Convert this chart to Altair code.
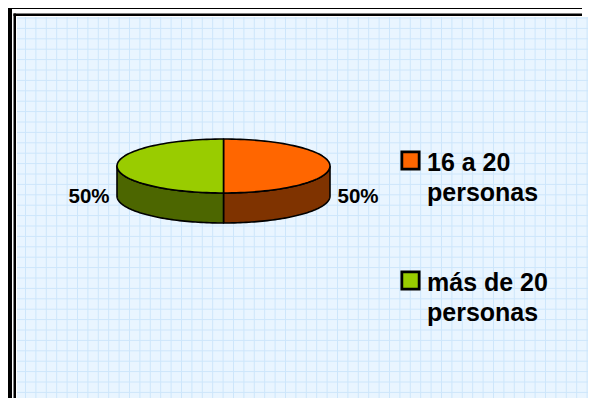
import altair as alt
import numpy as np
import pandas as pd

# ---- data ----
categories = ["16 a 20 personas", "más de 20 personas"]
shares = [50, 50]
top_colors = ["#FF6600", "#99CC00"]
side_colors = ["#7F3300", "#4C6600"]

# ---- layout (plot pixels) ----
W, H = 571, 381
cx, cy, rx, ry, depth = 206.5, 149.0, 106.5, 27.0, 30.0

total = float(sum(shares))
cum = np.concatenate([[0.0], np.cumsum(shares)]) / total * 2 * np.pi

tops, sides, labels = [], [], []
for k, cat in enumerate(categories):
    t0, t1 = cum[k], cum[k + 1]
    ts = np.linspace(t0, t1, 80)
    pts = [(cx, cy)] + [(cx + rx * np.sin(t), cy - ry * np.cos(t)) for t in ts] + [(cx, cy)]
    for i, (x, y) in enumerate(pts):
        tops.append({"poly": f"t{k}", "i": i, "x": x, "y": y, "col": top_colors[k]})
    a, b = max(t0, np.pi / 2), min(t1, 3 * np.pi / 2)
    if b > a:
        ts2 = np.linspace(a, b, 60)
        up = [(cx + rx * np.sin(t), cy - ry * np.cos(t)) for t in ts2]
        dn = [(x, y + depth) for (x, y) in up[::-1]]
        spts = up + dn + [up[0]]
        for i, (x, y) in enumerate(spts):
            sides.append({"poly": f"s{k}", "i": i, "x": x, "y": y, "col": side_colors[k]})
    mid = (t0 + t1) / 2
    labels.append({"x": cx + (rx + 28) * np.sin(mid), "y": cy + 31,
                   "txt": f"{round(shares[k] / total * 100)}%"})

legend = pd.DataFrame({"cat": categories, "col": top_colors, "k": range(len(categories))})

xs = alt.Scale(domain=[0, W], nice=False, zero=False)
ys = alt.Scale(domain=[0, H], nice=False, zero=False, reverse=True)

gx = [round(8.5 + 10.4 * i, 2) for i in range(int((W - 8.5) / 10.4) + 1)]
gy = [round(1 + 10.4 * i, 2) for i in range(int((H - 1) / 10.4) + 1)]

one = pd.DataFrame({"a": [0]})

grid_v = alt.Chart(pd.DataFrame({"g": gx})).mark_rule(color="#CDE6FB", strokeWidth=1).encode(
    x=alt.X("g:Q", scale=xs, axis=None), y=alt.value(0), y2=alt.value(H))
grid_h = alt.Chart(pd.DataFrame({"g": gy})).mark_rule(color="#CDE6FB", strokeWidth=1).encode(
    y=alt.Y("g:Q", scale=ys, axis=None), x=alt.value(0), x2=alt.value(W))

def box(x1, x2, y1, y2, c="black"):
    return alt.Chart(one).mark_rect(color=c).encode(
        x=alt.value(x1), x2=alt.value(x2), y=alt.value(y1), y2=alt.value(y2))

frames = [
    box(-9, -5, -9, H),         # thick left band
    box(-9, W - 6, -9, -8),     # top band
    box(-3.5, -1, -3.5, H),     # thin left line
    box(-3.5, W - 6, -3.5, -1), # thin top line
]

def poly_layer(rows):
    return alt.Chart(pd.DataFrame(rows)).mark_line(
        filled=True, stroke="black", strokeWidth=1.6, strokeJoin="round"
    ).encode(
        x=alt.X("x:Q", scale=xs, axis=None),
        y=alt.Y("y:Q", scale=ys, axis=None),
        fill=alt.Fill("col:N", scale=None),
        detail="poly:N",
        order="i:Q",
    )

side_layer = poly_layer(sides)
top_layer = poly_layer(tops)

pct = alt.Chart(pd.DataFrame(labels)).mark_text(
    font="Liberation Sans", fontWeight="bold", fontSize=20.5, color="black",
    align="center", baseline="middle"
).encode(x=alt.X("x:Q", scale=xs, axis=None), y=alt.Y("y:Q", scale=ys, axis=None), text="txt:N")

leg_base = alt.Chart(legend).transform_calculate(
    ly="143.5 + datum.k * 120",
    lx="393.5",
    tx="410",
    ty="143.5 + datum.k * 120 + 10",
    lab="replace(datum.cat, ' personas', '\\npersonas')",
)
leg_sq = leg_base.mark_square(size=300, stroke="black", strokeWidth=2.8, opacity=1).encode(
    x=alt.X("lx:Q", scale=xs, axis=None), y=alt.Y("ly:Q", scale=ys, axis=None),
    fill=alt.Fill("col:N", scale=None))
leg_tx = leg_base.mark_text(
    font="Liberation Sans", fontWeight="bold", fontSize=25, color="black",
    align="left", baseline="alphabetic", lineBreak="\n", lineHeight=30
).encode(x=alt.X("tx:Q", scale=xs, axis=None), y=alt.Y("ty:Q", scale=ys, axis=None), text="lab:N")

chart = alt.layer(
    grid_v, grid_h, *frames, side_layer, top_layer, pct, leg_sq, leg_tx
).properties(
    width=W, height=H,
    autosize=alt.AutoSizeParams(type="none"),
    padding={"left": 9, "top": 9, "right": 0, "bottom": 0},
    background="white",
).configure_view(fill="#E9F5FF", stroke="transparent", strokeWidth=0)

chart.save("out.html", embed_options={"renderer": "svg", "actions": False})
